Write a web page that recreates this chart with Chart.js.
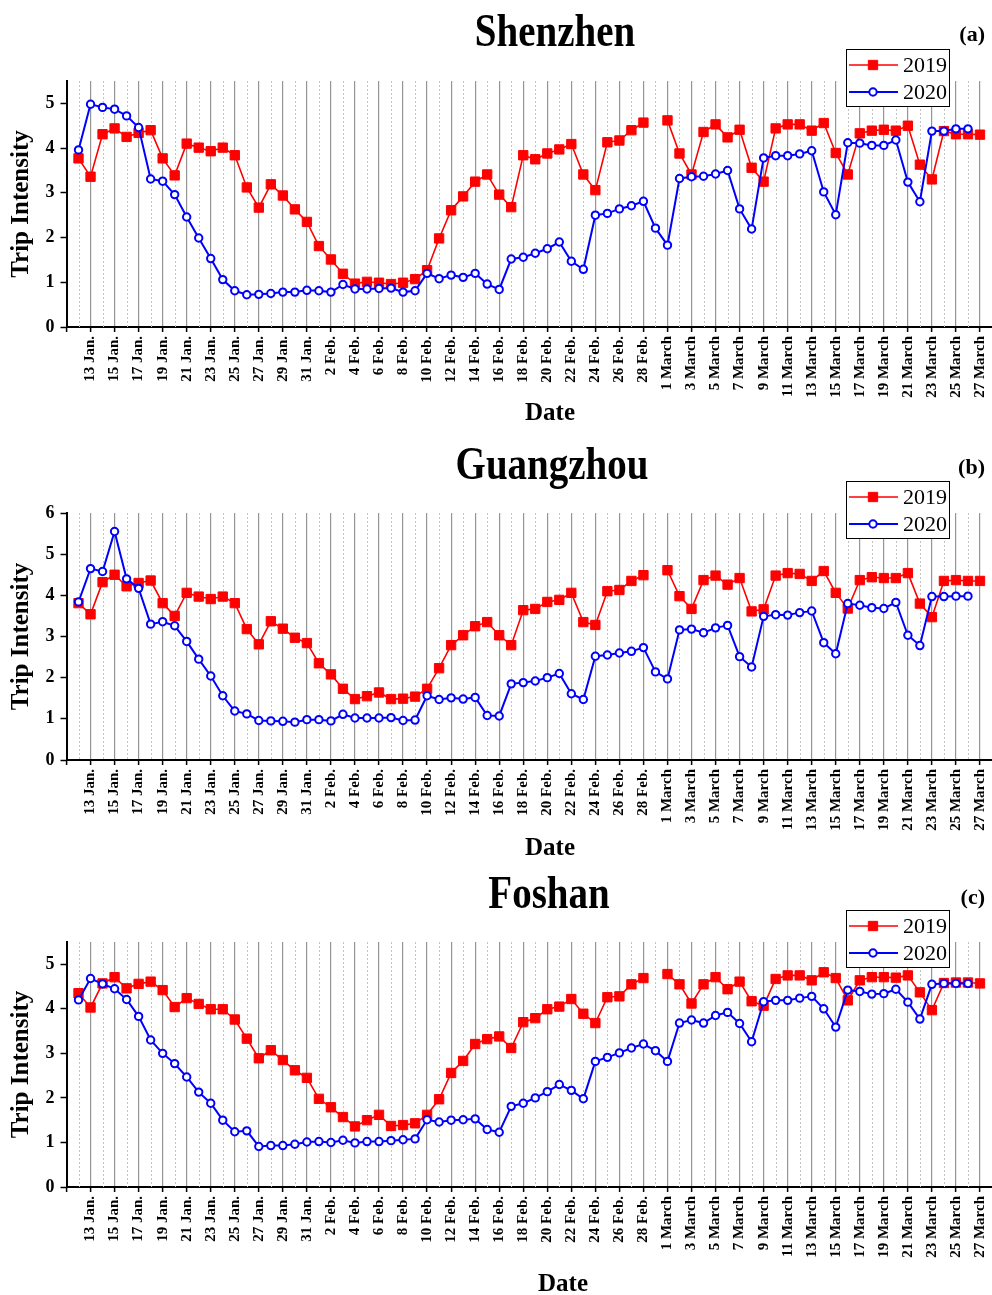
<!DOCTYPE html>
<html lang="en">
<head>
<meta charset="UTF-8">
<title>Trip Intensity 2019 vs 2020</title>
<script src="https://cdn.jsdelivr.net/npm/chart.js"></script>
<style>
  body { margin: 0; background: #fff; }
  #page { position: relative; width: 992px; height: 1295px; font-family: "Liberation Serif", "Times New Roman", serif; color: #000; }
  .panel { position: absolute; left: 0; width: 992px; }
  .panel canvas { position: absolute; left: 0; top: 0; }
  .city { position: absolute; font-weight: bold; font-size: 39px; line-height: 1; white-space: nowrap; transform: translateX(-50%) scaleY(1.2); transform-origin: 50% 0; }
  .tag { position: absolute; right: 7px; font-weight: bold; font-size: 22px; line-height: 1; }
  .xlab { position: absolute; font-weight: bold; font-size: 25px; line-height: 1; transform: translateX(-50%); }
</style>
</head>
<body>
<div id="page">
  <div class="panel" style="top:0;height:433px">
    <canvas id="chartA" width="992" height="433"></canvas>
    <div class="city" style="left:555px;top:6px">Shenzhen</div>
    <div class="tag" style="top:23px">(a)</div>
    <div class="xlab" style="left:550px;top:399px">Date</div>
  </div>
  <div class="panel" style="top:433px;height:432px">
    <canvas id="chartB" width="992" height="432"></canvas>
    <div class="city" style="left:552px;top:6px">Guangzhou</div>
    <div class="tag" style="top:23px">(b)</div>
    <div class="xlab" style="left:550px;top:401px">Date</div>
  </div>
  <div class="panel" style="top:865px;height:430px">
    <canvas id="chartC" width="992" height="430"></canvas>
    <div class="city" style="left:549px;top:3px">Foshan</div>
    <div class="tag" style="top:21px">(c)</div>
    <div class="xlab" style="left:563px;top:405px">Date</div>
  </div>
</div>

<script>
// day labels on the 2020 calendar (29 Feb. exists), 11 Jan. .. 28 March
const monthSpans = [['Jan.', 11, 31], ['Feb.', 1, 29], ['March', 1, 28]];
const dates = [];
monthSpans.forEach(([m, from, to]) => {
    for (let d = from; d <= to; d++) dates.push(d + ' ' + m);
});

const seriesNames = ['2019', '2020'];

// daily values, 12 Jan. .. 27 March (2019 has no 29 Feb.)
const shenzhen2019 = [
    3.77, 3.36, 4.31, 4.44, 4.25, 4.34, 4.40, 3.77, 3.39, 4.10, 4.01, 3.93, 4.01, 3.84, 3.12, 2.67, 3.19, 2.94, 2.63, 2.35,
    1.81, 1.51, 1.19, 0.97, 1.01, 0.99, 0.96, 0.99, 1.07, 1.27, 1.98, 2.61, 2.92, 3.25, 3.41, 2.96, 2.68, 3.84, 3.75, 3.88,
    3.97, 4.09, 3.41, 3.06, 4.13, 4.17, 4.40, 4.57, null,
    4.62, 3.88, 3.41, 4.36, 4.53, 4.24, 4.41, 3.56, 3.25, 4.44, 4.53, 4.53, 4.39, 4.56, 3.89, 3.41, 4.33, 4.39, 4.41, 4.39,
    4.50, 3.63, 3.30, 4.38, 4.31, 4.31, 4.30
];
const shenzhen2020 = [
    3.96, 4.98, 4.91, 4.87, 4.72, 4.46, 3.31, 3.26, 2.96, 2.46, 1.99, 1.53, 1.06, 0.81, 0.72, 0.73, 0.75, 0.78, 0.78, 0.82,
    0.81, 0.78, 0.95, 0.85, 0.85, 0.86, 0.87, 0.78, 0.81, 1.20, 1.08, 1.16, 1.11, 1.20, 0.96, 0.84, 1.52, 1.56, 1.65, 1.75,
    1.90, 1.47, 1.29, 2.50, 2.54, 2.64, 2.71, 2.81, 2.21,
    1.83, 3.32, 3.36, 3.37, 3.42, 3.50, 2.64, 2.19, 3.78, 3.83, 3.83, 3.87, 3.94, 3.02, 2.51, 4.12, 4.11, 4.06, 4.06, 4.18,
    3.24, 2.80, 4.38, 4.38, 4.43, 4.43, null
];
const guangzhou2019 = [
    3.81, 3.54, 4.32, 4.50, 4.22, 4.30, 4.36, 3.81, 3.50, 4.06, 3.97, 3.91, 3.97, 3.81, 3.18, 2.81, 3.37, 3.19, 2.97, 2.84,
    2.35, 2.08, 1.73, 1.48, 1.55, 1.64, 1.48, 1.49, 1.54, 1.73, 2.23, 2.79, 3.03, 3.25, 3.35, 3.03, 2.79, 3.64, 3.67, 3.84,
    3.89, 4.06, 3.35, 3.28, 4.10, 4.13, 4.35, 4.49, null,
    4.61, 3.98, 3.67, 4.37, 4.48, 4.26, 4.42, 3.61, 3.66, 4.48, 4.54, 4.52, 4.35, 4.59, 4.06, 3.68, 4.37, 4.44, 4.42, 4.42,
    4.54, 3.80, 3.47, 4.35, 4.37, 4.35, 4.35
];
const guangzhou2020 = [
    3.84, 4.65, 4.58, 5.55, 4.40, 4.17, 3.30, 3.36, 3.26, 2.88, 2.45, 2.04, 1.56, 1.19, 1.12, 0.96, 0.95, 0.94, 0.92, 0.98,
    0.98, 0.95, 1.11, 1.02, 1.02, 1.02, 1.03, 0.96, 0.97, 1.56, 1.47, 1.51, 1.48, 1.52, 1.08, 1.07, 1.85, 1.88, 1.92, 2.00,
    2.10, 1.61, 1.47, 2.52, 2.55, 2.60, 2.64, 2.73, 2.14,
    1.97, 3.16, 3.18, 3.09, 3.21, 3.27, 2.51, 2.26, 3.49, 3.53, 3.52, 3.58, 3.62, 2.85, 2.58, 3.80, 3.76, 3.70, 3.68, 3.83,
    3.03, 2.78, 3.97, 3.97, 3.98, 3.98, null
];
const foshan2019 = [
    4.35, 4.03, 4.57, 4.71, 4.46, 4.56, 4.61, 4.42, 4.04, 4.24, 4.11, 3.99, 3.99, 3.76, 3.33, 2.89, 3.07, 2.85, 2.62, 2.45,
    1.98, 1.79, 1.57, 1.36, 1.50, 1.62, 1.37, 1.39, 1.43, 1.62, 1.97, 2.56, 2.83, 3.21, 3.32, 3.38, 3.12, 3.70, 3.79, 3.99,
    4.05, 4.22, 3.89, 3.68, 4.26, 4.28, 4.55, 4.69, null,
    4.78, 4.55, 4.12, 4.55, 4.71, 4.44, 4.61, 4.17, 4.07, 4.67, 4.75, 4.75, 4.64, 4.82, 4.69, 4.19, 4.64, 4.71, 4.71, 4.70,
    4.75, 4.37, 3.97, 4.58, 4.59, 4.59, 4.57
];
const foshan2020 = [
    4.20, 4.68, 4.56, 4.45, 4.21, 3.83, 3.30, 3.00, 2.77, 2.47, 2.13, 1.88, 1.50, 1.24, 1.26, 0.91, 0.93, 0.93, 0.96, 1.01,
    1.02, 1.00, 1.05, 0.99, 1.02, 1.02, 1.04, 1.06, 1.08, 1.51, 1.46, 1.50, 1.51, 1.53, 1.29, 1.23, 1.81, 1.88, 2.00, 2.14,
    2.30, 2.17, 1.98, 2.82, 2.91, 3.01, 3.12, 3.21, 3.06,
    2.82, 3.68, 3.75, 3.68, 3.85, 3.92, 3.67, 3.26, 4.16, 4.19, 4.19, 4.24, 4.28, 4.00, 3.59, 4.42, 4.39, 4.33, 4.34, 4.44,
    4.15, 3.77, 4.55, 4.57, 4.57, 4.57, null
];

const FONT = '"Liberation Serif", "Times New Roman", serif';
const RED = '#ff0000';
const BLUE = '#0000ff';

// the series start on 12 Jan. and stop at 27 March; the axis runs 11 Jan. .. 28 March
function pad(values) {
    return [null].concat(values, [null]);
}

function isLabelled(i) {
    return i % 2 === 0;
}

// dotted light lines on the unlabelled days
const dayLines = {
    id: 'dayLines',
    beforeDatasetsDraw(chart) {
        const {ctx, chartArea, scales: {x}} = chart;
        ctx.save();
        ctx.strokeStyle = '#c4c4c4';
        ctx.lineWidth = 1;
        ctx.setLineDash([2, 2]);
        for (let i = 1; i < dates.length - 1; i += 2) {
            const px = Math.round(x.getPixelForValue(i)) + 0.5;
            ctx.beginPath();
            ctx.moveTo(px, chartArea.top);
            ctx.lineTo(px, chartArea.bottom);
            ctx.stroke();
        }
        ctx.restore();
    }
};

// boxed legend sitting across the top right corner of the plot
const boxLegend = {
    id: 'boxLegend',
    afterDraw(chart) {
        const {ctx, chartArea} = chart;
        const w = 103, h = 57;
        const left = chartArea.right - 146;
        const top = chartArea.top - 32;
        ctx.save();
        ctx.fillStyle = '#fff';
        ctx.fillRect(left, top, w, h);
        ctx.strokeStyle = '#000';
        ctx.lineWidth = 1;
        ctx.strokeRect(left + 0.5, top + 0.5, w, h);
        chart.data.datasets.forEach((ds, i) => {
            const y = top + 16 + i * 27;
            ctx.strokeStyle = ds.borderColor;
            ctx.lineWidth = ds.borderWidth;
            ctx.beginPath();
            ctx.moveTo(left + 3, y);
            ctx.lineTo(left + 52, y);
            ctx.stroke();
            ctx.fillStyle = ds.pointBackgroundColor;
            ctx.strokeStyle = ds.borderColor;
            ctx.lineWidth = ds.pointBorderWidth;
            ctx.beginPath();
            if (ds.pointStyle === 'rect') {
                const s = Math.SQRT1_2 * ds.pointRadius;
                ctx.rect(left + 27 - s, y - s, 2 * s, 2 * s);
            } else {
                ctx.arc(left + 27, y, ds.pointRadius, 0, Math.PI * 2);
            }
            ctx.fill();
            ctx.stroke();
            ctx.fillStyle = '#000';
            ctx.font = '22px ' + FONT;
            ctx.textBaseline = 'middle';
            ctx.textAlign = 'left';
            ctx.fillText(ds.label, left + 57, y + 1);
        });
        ctx.restore();
    }
};

function makePanel(id, values2019, values2020, yMax, topPad, xHeight) {
    new Chart(document.getElementById(id), {
        type: 'line',
        data: {
            labels: dates,
            datasets: [{
                label: seriesNames[0],
                data: pad(values2019),
                borderColor: RED,
                backgroundColor: RED,
                borderWidth: 1.6,
                pointStyle: 'rect',
                pointRadius: 6.6,
                pointBackgroundColor: RED,
                pointBorderColor: RED,
                pointBorderWidth: 1,
                spanGaps: false,
                order: 2
            }, {
                label: seriesNames[1],
                data: pad(values2020),
                borderColor: BLUE,
                backgroundColor: '#fff',
                borderWidth: 2,
                pointStyle: 'circle',
                pointRadius: 3.7,
                pointBackgroundColor: '#fff',
                pointBorderColor: BLUE,
                pointBorderWidth: 2,
                spanGaps: false,
                order: 1
            }]
        },
        options: {
            responsive: false,
            animation: false,
            layout: { autoPadding: false, padding: { top: topPad, right: 0, bottom: 0, left: 0 } },
            plugins: {
                legend: { display: false },
                tooltip: { enabled: false },
                title: { display: false }
            },
            elements: { line: { tension: 0 } },
            scales: {
                x: {
                    type: 'category',
                    offset: false,
                    border: { display: true, color: '#000', width: 2 },
                    grid: {
                        drawOnChartArea: true,
                        drawTicks: true,
                        tickLength: 5,
                        tickWidth: 1.5,
                        lineWidth: 1.2,
                        color: ctx => (isLabelled(ctx.index) && ctx.index > 0 ? 'rgba(0,0,0,0.42)' : 'rgba(0,0,0,0)'),
                        tickColor: ctx => (isLabelled(ctx.index) ? '#000' : 'rgba(0,0,0,0)')
                    },
                    ticks: {
                        autoSkip: false,
                        minRotation: 90,
                        maxRotation: 90,
                        padding: 4,
                        color: '#000',
                        font: { family: FONT, size: 15, weight: 'bold' },
                        callback: (v, i) => (isLabelled(i) && i >= 2 && i <= 76 ? dates[i] : '')
                    },
                    afterFit: scale => {
                        scale.height = xHeight;
                        scale.paddingLeft = 0;
                        scale.paddingRight = 0;
                    }
                },
                y: {
                    min: 0,
                    max: yMax,
                    border: { display: true, color: '#000', width: 2 },
                    grid: {
                        drawOnChartArea: false,
                        drawTicks: true,
                        tickLength: 6,
                        tickWidth: 1.5,
                        tickColor: '#000'
                    },
                    ticks: {
                        stepSize: 0.5,
                        padding: 6,
                        color: '#000',
                        font: { family: FONT, size: 18, weight: 'bold' },
                        callback: v => (Number.isInteger(v) ? v : '')
                    },
                    title: {
                        display: true,
                        text: 'Trip Intensity',
                        color: '#000',
                        font: { family: FONT, size: 25, weight: 'bold' },
                        padding: { top: 7, bottom: 0 }
                    },
                    afterFit: scale => {
                        scale.width = 66.5;
                        scale.paddingTop = 0;
                        scale.paddingBottom = 0;
                    }
                }
            }
        },
        plugins: [dayLines, boxLegend]
    });
}

makePanel('chartA', shenzhen2019, shenzhen2020, 5.5, 81, 106);
makePanel('chartB', guangzhou2019, guangzhou2020, 6, 80, 105);
makePanel('chartC', foshan2019, foshan2020, 5.5, 77, 108);
</script>
</body>
</html>
